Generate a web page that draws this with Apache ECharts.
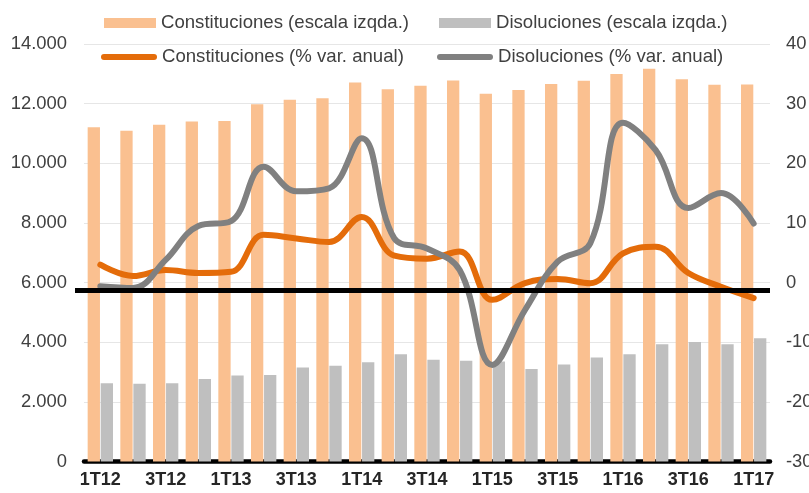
<!DOCTYPE html>
<html>
<head>
<meta charset="utf-8">
<script src="https://cdn.jsdelivr.net/npm/echarts@6/dist/echarts.min.js"></script>
<style>html,body{margin:0;padding:0;background:#fff;}#c{width:809px;height:493px;}</style>
</head>
<body>
<div id="c"></div>
<script>
const categories = ['1T12','2T12','3T12','4T12','1T13','2T13','3T13','4T13','1T14','2T14','3T14','4T14','1T15','2T15','3T15','4T15','1T16','2T16','3T16','4T16','1T17'];
const constituciones = [11210, 11090, 11290, 11400, 11420, 11980, 12130, 12180, 12710, 12480, 12600, 12780, 12330, 12460, 12660, 12770, 12990, 13170, 12820, 12630, 12640];
const disoluciones = [2620, 2610, 2620, 2770, 2880, 2900, 3150, 3210, 3330, 3600, 3410, 3380, 3350, 3100, 3250, 3490, 3600, 3930, 4010, 3930, 4130];
const constVar = [3.0, 1.1, 2.1, 1.6, 1.8, 8.0, 7.4, 6.8, 11.0, 4.5, 4.0, 5.2, -2.9, -0.1, 0.6, -0.1, 4.9, 6.0, 1.6, -0.7, -2.6];
const disolVar = [-0.6, -0.9, 3.8, 9.5, 10.3, 19.4, 15.3, 15.8, 24.2, 7.4, 5.7, 2.1, -13.8, -4.6, 3.5, 6.6, 26.8, 22.2, 12.5, 15.0, 9.9];
const leftTicks = {min: 0, max: 14000, interval: 2000};
const rightTicks = {min: -30, max: 40, interval: 10};
const refLineValue = 5750;

const FONT = 'Liberation Sans, Arial, sans-serif';
const names = ['Constituciones (escala izqda.)', 'Disoluciones (escala izqda.)', 'Constituciones (% var. anual)', 'Disoluciones (% var. anual)'];
const cOrangeBar = '#FAC090', cGrayBar = '#BFBFBF', cOrangeLine = '#E46C0A', cGrayLine = '#808080';
const capsule = 'path://M3,0 L53,0 A3,3 0 0 1 53,6 L3,6 A3,3 0 0 1 3,0 Z';
function leg(name, left, top, icon, w, h) {
  return {data: [name], left: left, top: top, icon: icon, itemWidth: w, itemHeight: h,
    padding: 0, textStyle: {fontFamily: FONT, fontSize: 18.6, color: '#404040', lineHeight: 20}};
}
const chart = echarts.init(document.getElementById('c'), null, {renderer: 'canvas'});
chart.setOption({
  animation: false,
  backgroundColor: '#fff',
  textStyle: {fontFamily: FONT},
  legend: [
    leg(names[0], 104, 13, 'rect', 52, 10),
    leg(names[1], 439, 13, 'rect', 52, 10),
    leg(names[2], 101, 47, capsule, 56, 6.5),
    leg(names[3], 437, 47, capsule, 56, 6.5)
  ],
  grid: {left: 84, right: 39, top: 44, bottom: 31.5, containLabel: false, outerBoundsMode: 'none'},
  xAxis: {
    type: 'category', data: categories,
    axisLine: {lineStyle: {color: '#000', width: 4.5}},
    axisTick: {show: false},
    axisLabel: {interval: 1, margin: 10, fontFamily: FONT, fontSize: 18, fontWeight: 'bold', color: '#262626'}
  },
  yAxis: [
    {type: 'value', min: leftTicks.min, max: leftTicks.max, interval: leftTicks.interval,
     axisLine: {show: false}, axisTick: {show: false},
     splitLine: {lineStyle: {color: '#E6E6E6', width: 1}},
     axisLabel: {margin: 17, fontFamily: FONT, fontSize: 18.4, color: '#404040',
       formatter: v => String(v).replace(/\B(?=(\d{3})+(?!\d))/g, '.')}},
    {type: 'value', min: rightTicks.min, max: rightTicks.max, interval: rightTicks.interval,
     axisLine: {show: false}, axisTick: {show: false}, splitLine: {show: false},
     axisLabel: {margin: 16, fontFamily: FONT, fontSize: 18.4, color: '#404040'}}
  ],
  series: [
    {name: names[0], type: 'bar', data: constituciones, yAxisIndex: 0, barWidth: 12.3, barGap: '6%',
     itemStyle: {color: cOrangeBar},
     markLine: {silent: true, symbol: 'none', label: {show: false},
       lineStyle: {color: '#000', width: 5, type: 'solid'},
       data: [[{xAxis: 0, yAxis: refLineValue, x: 75}, {xAxis: 20, yAxis: refLineValue, x: 770}]]}},
    {name: names[1], type: 'bar', data: disoluciones, yAxisIndex: 0, barWidth: 12.3, barGap: '6%',
     itemStyle: {color: cGrayBar}},
    {name: names[2], type: 'line', data: constVar, yAxisIndex: 1, smooth: 0.4, symbol: 'none',
     lineStyle: {color: cOrangeLine, width: 6, cap: 'round', join: 'round'}, itemStyle: {color: cOrangeLine}, z: 3},
    {name: names[3], type: 'line', data: disolVar, yAxisIndex: 1, smooth: 0.4, symbol: 'none',
     lineStyle: {color: cGrayLine, width: 6, cap: 'round', join: 'round'}, itemStyle: {color: cGrayLine}, z: 4}
  ]
});
</script>
</body>
</html>
